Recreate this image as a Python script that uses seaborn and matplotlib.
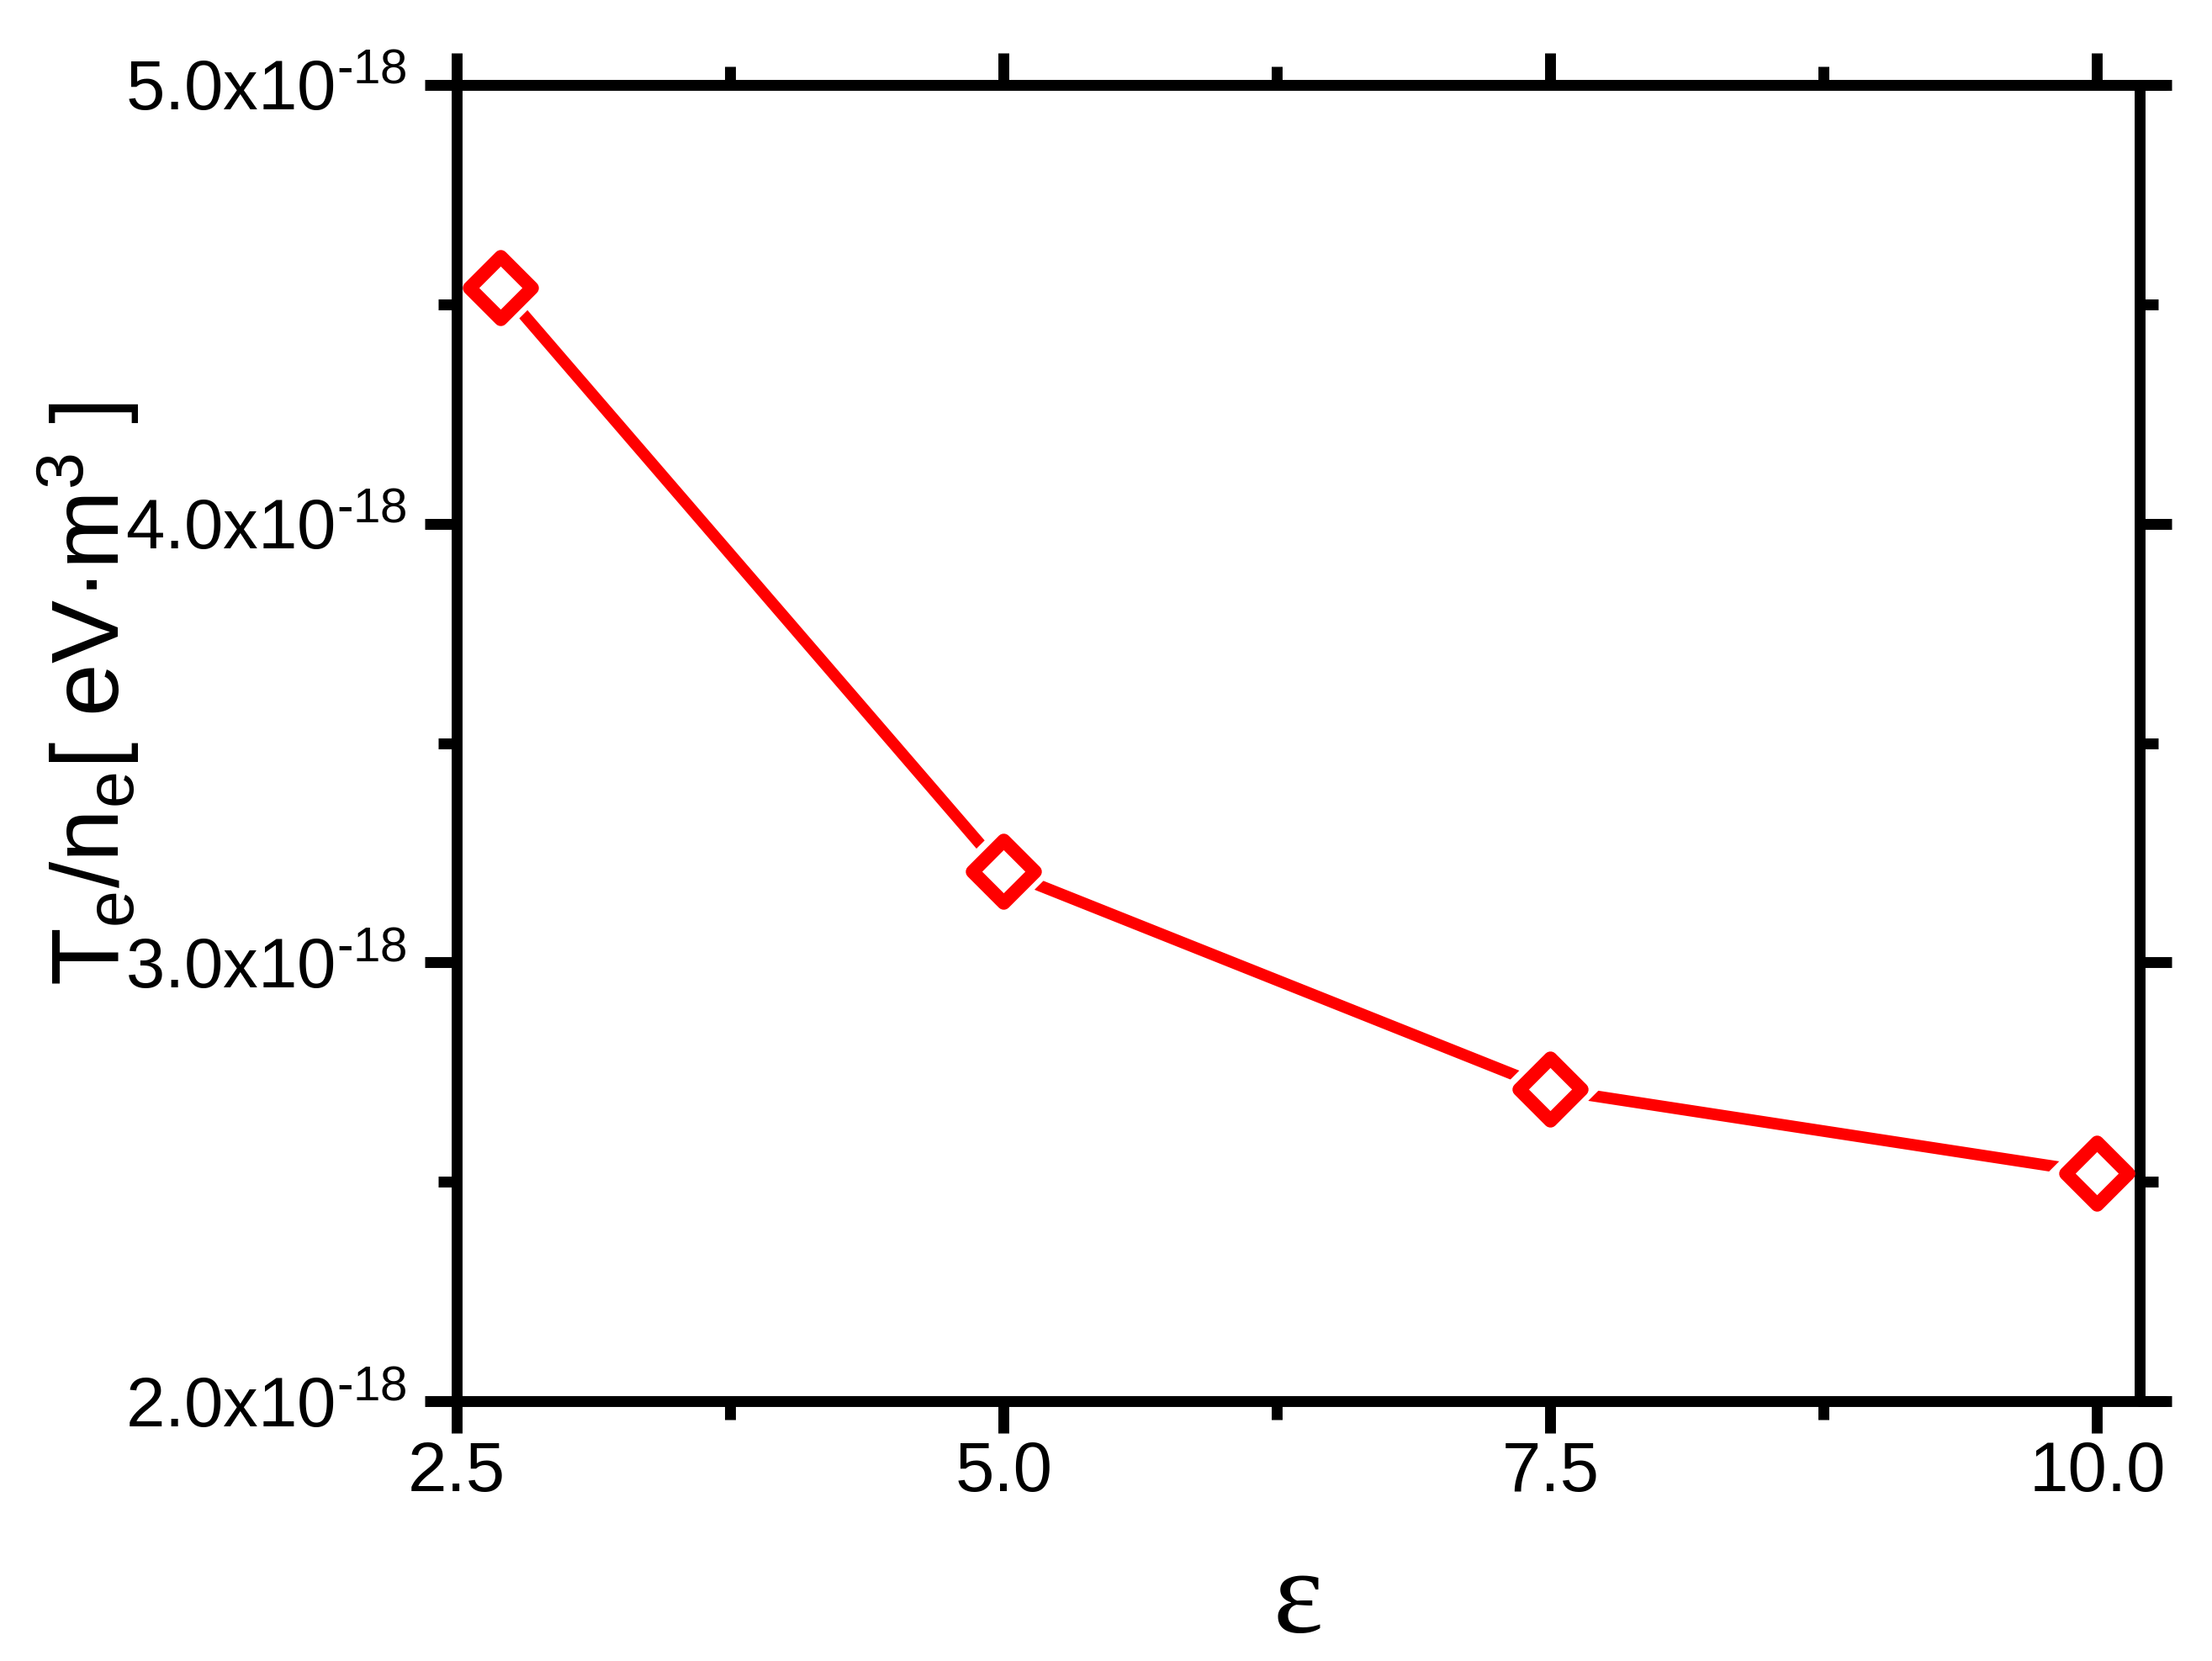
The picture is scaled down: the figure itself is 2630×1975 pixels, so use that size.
import matplotlib
matplotlib.use("Agg")
import matplotlib.pyplot as plt
import seaborn as sns
import numpy as np
import pandas as pd
from matplotlib.ticker import FixedLocator, FuncFormatter

# ---- data ----
eps_values = [2.7, 5.0, 7.5, 10.0]
te_ne_values = [4.538e-18, 3.208e-18, 2.711e-18, 2.520e-18]
x_ticks = [2.5, 5.0, 7.5, 10.0]
x_minor = [3.75, 6.25, 8.75]
y_ticks = [2.0e-18, 3.0e-18, 4.0e-18, 5.0e-18]
y_minor = [2.5e-18, 3.5e-18, 4.5e-18]

df = pd.DataFrame({"eps": eps_values, "val": te_ne_values})

sns.set_theme(style="ticks")
plt.rcParams["font.family"] = ["Liberation Sans", "DejaVu Sans"]
plt.rcParams["mathtext.fontset"] = "custom"
plt.rcParams["mathtext.rm"] = "Liberation Sans"
plt.rcParams["mathtext.it"] = "Liberation Sans:italic"
plt.rcParams["mathtext.bf"] = "Liberation Sans:bold"

W, H = 2630, 1975
dpi = 300
fig = plt.figure(figsize=(W / dpi, H / dpi), dpi=dpi, facecolor="white")
ax_left, ax_right, ax_bottom, ax_top = 543, 2574, 1666, 101
ax = fig.add_axes([ax_left / W, 1 - ax_bottom / H, (ax_right - ax_left) / W, (ax_bottom - ax_top) / H])
ax.set_facecolor("white")

red = "#FF0000"
sns.lineplot(data=df, x="eps", y="val", color=red, linewidth=3.3, ax=ax,
             solid_capstyle="round", zorder=2)
# white halo that creates the gap between line and markers
sns.scatterplot(data=df, x="eps", y="val", marker="D", s=20.0 ** 2, color="white",
                edgecolor="none", linewidth=0, ax=ax, zorder=3)
sns.scatterplot(data=df, x="eps", y="val", marker="D", s=12.6 ** 2, color="white",
                edgecolor=red, linewidth=3.9, ax=ax, zorder=4)

ax.set_xlim(2.5, 10.31)
ax.set_ylim(2.0e-18, 5.0e-18)

spine_lw = 3.1
for s in ["left", "right", "top", "bottom"]:
    ax.spines[s].set_visible(True)
    ax.spines[s].set_linewidth(spine_lw)
    ax.spines[s].set_color("black")
    ax.spines[s].set_capstyle("round")
    ax.spines[s].set_zorder(3.5)
ax.spines["right"].set_position(("data", 10.196))

ax.xaxis.set_major_locator(FixedLocator(x_ticks))
ax.xaxis.set_minor_locator(FixedLocator(x_minor))
ax.yaxis.set_major_locator(FixedLocator(y_ticks))
ax.yaxis.set_minor_locator(FixedLocator(y_minor))
ax.xaxis.set_major_formatter(FuncFormatter(lambda v, p: f"{v:.1f}"))
ax.yaxis.set_major_formatter(FuncFormatter(lambda v, p: f"{v * 1e18:.1f}x10$^{{\\text{{-18}}}}$"))

ax.tick_params(axis="both", which="major", direction="out", length=9.1, width=spine_lw,
               color="black", labelsize=20, labelcolor="black",
               top=True, right=True, bottom=True, left=True,
               labeltop=False, labelright=False)
ax.tick_params(axis="both", which="minor", direction="out", length=5.3, width=spine_lw,
               color="black", top=True, right=True, bottom=True, left=True)
ax.tick_params(axis="x", which="major", pad=2)
ax.tick_params(axis="y", which="major", pad=5)
ax.grid(False)

ax.set_xlabel("ε", fontsize=34, family=["Liberation Serif", "DejaVu Serif"], va="baseline", color="black")
ax.xaxis.set_label_coords((1543 - ax_left) / (ax_right - ax_left), (ax_bottom - 1941) / (ax_bottom - ax_top))

ax.set_ylabel(r"T$_\mathregular{e}$/n$_\mathregular{e}$[ eV·m$^\mathregular{3}$ ]", fontsize=27,
              va="baseline", color="black")
ax.yaxis.set_label_coords((142 - ax_left) / (ax_right - ax_left), (ax_bottom - 825) / (ax_bottom - ax_top))

fig.savefig("out.png", dpi=dpi, facecolor="white")
